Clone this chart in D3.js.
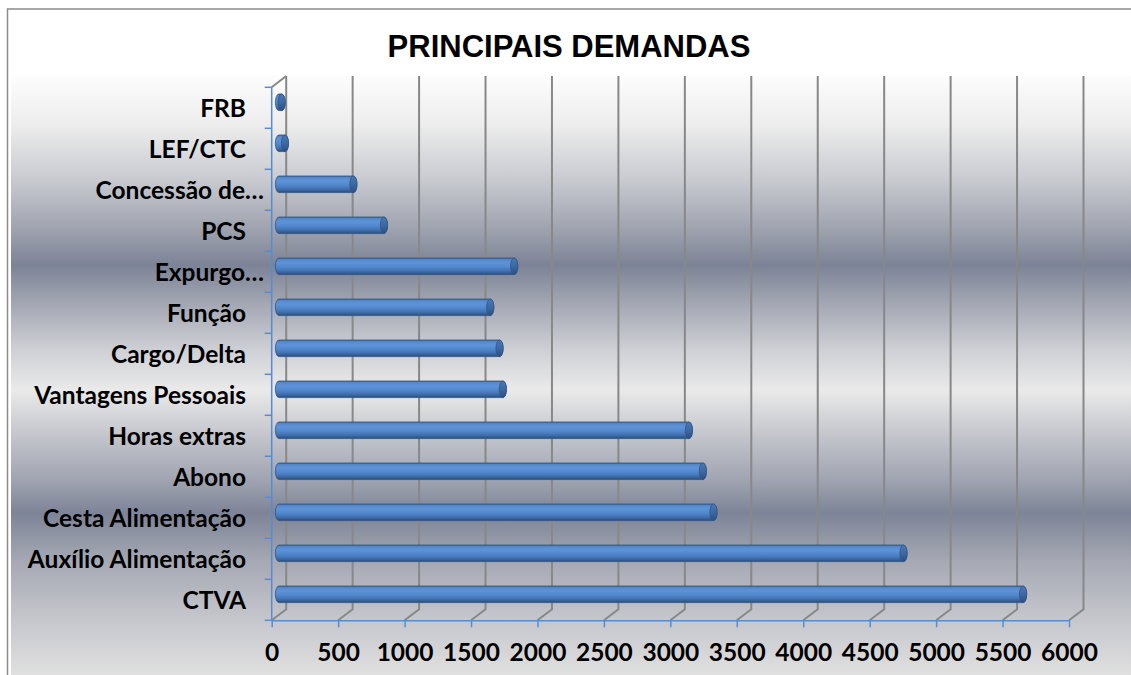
<!DOCTYPE html>
<html>
<head>
<meta charset="utf-8">
<script src="https://cdn.jsdelivr.net/npm/d3@7/dist/d3.min.js"></script>
<style>
  html, body { margin: 0; padding: 0; background: #ffffff; }
  svg { display: block; }
</style>
</head>
<body>
<svg id="chart" width="1131" height="675"></svg>
<script>
// Categories listed top to bottom as they appear on the vertical axis
const categories = [
  "FRB", "LEF/CTC", "Concessão de…", "PCS", "Expurgo…", "Função",
  "Cargo/Delta", "Vantagens Pessoais", "Horas extras", "Abono",
  "Cesta Alimentação", "Auxílio Alimentação", "CTVA"
];
const demandas = [20, 45, 560, 790, 1770, 1590, 1660, 1685, 3085, 3190, 3270, 4700, 5600];
const xTicks = [0, 500, 1000, 1500, 2000, 2500, 3000, 3500, 4000, 4500, 5000, 5500, 6000];
const chartTitle = "PRINCIPAIS DEMANDAS";

const svg = d3.select("#chart");
const defs = svg.append("defs");

// Silver banded backdrop of the plot area
const bg = defs.append("linearGradient")
  .attr("id", "plotBg").attr("gradientUnits", "userSpaceOnUse")
  .attr("x1", 0).attr("y1", 75).attr("x2", 0).attr("y2", 675);
[
  [75, "#fdfdfd"], [125, "#ededed"], [180, "#c8cad0"], [230, "#9ea2ae"],
  [265, "#7c8396"], [300, "#a0a4b0"], [350, "#cfd0d5"], [390, "#eaeaea"],
  [440, "#c0c2c9"], [480, "#a0a4b1"], [513, "#7d8497"], [560, "#a5a8b3"],
  [620, "#c6c7cd"], [675, "#e0e0e0"]
].forEach(([y, c]) => bg.append("stop").attr("offset", (y - 75) / 600).attr("stop-color", c));

// Cylinder shading (top to bottom)
const cyl = defs.append("linearGradient")
  .attr("id", "cylBody").attr("x1", 0).attr("y1", 0).attr("x2", 0).attr("y2", 1);
[
  [0, "#3d689f"], [0.1, "#5789cb"], [0.3, "#5e93d8"], [0.55, "#5187cd"],
  [0.75, "#4474b4"], [0.9, "#365f95"], [1, "#2b4b77"]
].forEach(([o, c]) => cyl.append("stop").attr("offset", o).attr("stop-color", c));

const capGrad = defs.append("linearGradient")
  .attr("id", "cylCap").attr("x1", 0).attr("y1", 0).attr("x2", 0).attr("y2", 1);
[[0, "#4a78b4"], [0.5, "#3d69a2"], [1, "#2c4e7e"]]
  .forEach(([o, c]) => capGrad.append("stop").attr("offset", o).attr("stop-color", c));

// Chart area frame and plot backdrop
svg.append("rect").attr("x", 11).attr("y", 75).attr("width", 1131).attr("height", 620)
  .attr("fill", "url(#plotBg)");
svg.append("rect").attr("x", 7.5).attr("y", 9).attr("width", 1140).attr("height", 700)
  .attr("fill", "none").attr("stroke", "#8c8c8c").attr("stroke-width", 1.5);

// Title
svg.append("text")
  .attr("x", 569).attr("y", 57)
  .attr("text-anchor", "middle")
  .attr("font-family", "'Liberation Sans', Arial, sans-serif")
  .attr("font-weight", "bold").attr("font-size", 31)
  .attr("fill", "#000").text(chartTitle);

// Scales with a 3-D depth offset (back wall shifted up and to the right)
const x = d3.scaleLinear().domain([0, 6000]).range([271.7, 1069]);
const y = d3.scaleBand().domain(categories).range([87.3, 620.3]);
const depthX = 14.5, depthY = -11;
const floorY = 620.3;
const wallTop = 76;

// Back-wall gridlines plus their floor diagonals
const grid = svg.append("g").attr("fill", "none").attr("stroke", "#888888").attr("stroke-width", 2);
xTicks.forEach(t => {
  const fx = x(t), bx = x(t) + depthX;
  grid.append("path")
    .attr("d", `M${bx},${wallTop} L${bx},${floorY + depthY} L${fx},${floorY}`);
});
// Top edge of the side wall
grid.append("path")
  .attr("d", `M${x(0)},${y.range()[0]} L${x(0) + depthX},${wallTop}`);

// Cylinder bars, sitting in the middle of the depth
const r = 8.3, capRx = 3.6;
const bars = svg.append("g");
categories.forEach((c, i) => {
  const cy = y(c) + y.bandwidth() / 2 + depthY / 2;
  const x0 = x(0) + depthX / 2;
  const x1 = x(demandas[i]) + depthX / 2;
  const g = bars.append("g");
  g.append("path")
    .attr("d", `M${x0},${cy - r} L${x1},${cy - r} A${capRx},${r} 0 0 1 ${x1},${cy + r} ` +
               `L${x0},${cy + r} A${capRx},${r} 0 0 1 ${x0},${cy - r} Z`)
    .attr("fill", "url(#cylBody)")
    .attr("stroke", "#2f5687").attr("stroke-width", 0.8);
  g.append("ellipse")
    .attr("cx", x1).attr("cy", cy).attr("rx", capRx).attr("ry", r)
    .attr("fill", "url(#cylCap)")
    .attr("stroke", "#2f5687").attr("stroke-width", 0.8);
});

// Horizontal value axis
const xAxis = d3.axisBottom(x).tickValues(xTicks).tickFormat(d3.format("d"))
  .tickSizeInner(7).tickSizeOuter(0).tickPadding(16);
const xg = svg.append("g").attr("transform", `translate(0,${floorY})`).call(xAxis);
xg.select(".domain").attr("stroke", "#5a8bd0").attr("stroke-width", 1.5);
xg.selectAll(".tick line").attr("stroke", "#5a8bd0").attr("stroke-width", 1.5);
xg.selectAll(".tick text")
  .attr("font-family", "Lato, 'Open Sans', sans-serif")
  .attr("font-weight", "bold").attr("font-size", 24.5).attr("fill", "#000");

// Vertical category axis: line, ticks between categories, labels
const yg = svg.append("g");
yg.append("line")
  .attr("x1", x(0)).attr("x2", x(0))
  .attr("y1", y.range()[0]).attr("y2", y.range()[1])
  .attr("stroke", "#5a8bd0").attr("stroke-width", 1.5);
const bounds = categories.map(c => y(c)).concat([y.range()[1]]);
yg.selectAll(".cat-tick").data(bounds).join("line")
  .attr("class", "cat-tick")
  .attr("x1", x(0) - 7).attr("x2", x(0))
  .attr("y1", d => d).attr("y2", d => d)
  .attr("stroke", "#5a8bd0").attr("stroke-width", 1.5);
yg.selectAll(".cat-label").data(categories).join("text")
  .attr("class", "cat-label")
  .attr("x", d => d.endsWith("…") ? 264 : 246)
  .attr("y", d => y(d) + y.bandwidth() / 2)
  .attr("dy", "0.36em")
  .attr("text-anchor", "end")
  .attr("font-family", "Lato, 'Open Sans', sans-serif")
  .attr("font-weight", "bold").attr("font-size", 24.5)
  .attr("fill", "#000")
  .text(d => d);
</script>
</body>
</html>
